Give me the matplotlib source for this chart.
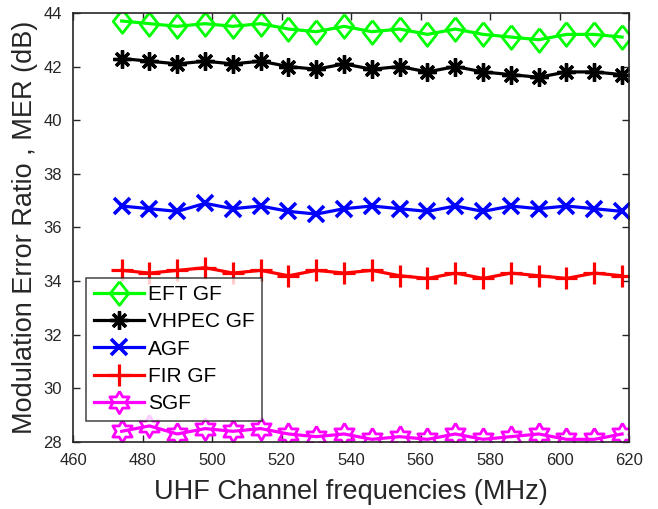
import numpy as np
import matplotlib
matplotlib.use('Agg')
import matplotlib.pyplot as plt

plt.rcParams['font.family'] = ['Liberation Sans', 'DejaVu Sans']

# ── Data ──────────────────────────────────────────────────────────────────────
freqs = [474, 482, 490, 498, 506, 514, 522, 530, 538, 546,
         554, 562, 570, 578, 586, 594, 602, 610, 618]

eft_gf = [43.7, 43.6, 43.5, 43.6, 43.5, 43.6, 43.4, 43.3, 43.5, 43.3,
          43.4, 43.2, 43.4, 43.2, 43.1, 43.0, 43.2, 43.2, 43.1]
vhpec_gf = [42.3, 42.2, 42.1, 42.2, 42.1, 42.2, 42.0, 41.9, 42.1, 41.9,
            42.0, 41.8, 42.0, 41.8, 41.7, 41.6, 41.8, 41.8, 41.7]
agf = [36.8, 36.7, 36.6, 36.9, 36.7, 36.8, 36.6, 36.5, 36.7, 36.8,
       36.7, 36.6, 36.8, 36.6, 36.8, 36.7, 36.8, 36.7, 36.6]
fir_gf = [34.4, 34.3, 34.4, 34.5, 34.3, 34.4, 34.2, 34.4, 34.3, 34.4,
          34.2, 34.1, 34.3, 34.1, 34.3, 34.2, 34.1, 34.3, 34.2]
sgf = [28.4, 28.6, 28.3, 28.5, 28.4, 28.5, 28.3, 28.2, 28.3, 28.1,
       28.2, 28.1, 28.3, 28.1, 28.2, 28.3, 28.1, 28.1, 28.3]

x_ticks = [460, 480, 500, 520, 540, 560, 580, 600, 620]
y_ticks = [28, 30, 32, 34, 36, 38, 40, 42, 44]

# ── Marker shapes (MATLAB look-alikes) ────────────────────────────────────────
diamond = [(0, 1), (0.78, 0), (0, -1), (-0.78, 0), (0, 1)]
ang = np.deg2rad(np.arange(12) * 30 + 90)
rad = np.where(np.arange(12) % 2 == 0, 1.0, 0.577)
hexagram = list(zip(rad * np.cos(ang), rad * np.sin(ang)))
hexagram.append(hexagram[0])

fig = plt.figure(figsize=(6.58, 5.09), dpi=100)
ax = fig.add_axes([0.111, 0.1316, 0.845, 0.843])

lw = 2.3
ax.plot(freqs, eft_gf, color='#00ff00', lw=lw, marker=diamond, ms=17,
        mfc='none', mew=2.0, label='EFT GF')
ax.plot(freqs, vhpec_gf, color='black', lw=lw, marker=(8, 2, 0), ms=13,
        mew=2.4, label='VHPEC GF')
ax.plot(freqs, agf, color='#0000ff', lw=lw, marker='x', ms=11,
        mew=2.6, label='AGF')
ax.plot(freqs, fir_gf, color='#ff0000', lw=lw, marker='+', ms=16,
        mew=2.3, label='FIR GF')
ax.plot(freqs, sgf, color='#ff00ff', lw=lw, marker=hexagram, ms=16,
        mfc='none', mew=2.0, label='SGF')

ax.set_xlim(460, 620)
ax.set_ylim(28, 44)
ax.set_xticks(x_ticks)
ax.set_yticks(y_ticks)
ax.tick_params(direction='in', top=True, right=True, length=5, width=1.0,
               labelsize=12, colors='#262626', pad=8)
for sp in ax.spines.values():
    sp.set_linewidth(1.2)
    sp.set_color('#262626')

ax.set_xlabel('UHF Channel frequencies (MHz)', fontsize=19.5, color='#262626',
              labelpad=8)
ax.set_ylabel('Modulation Error Ratio , MER (dB)', fontsize=19.5,
              color='#262626', labelpad=4)

leg = ax.legend(loc='lower left', bbox_to_anchor=(0.024, 0.05), fontsize=15,
                frameon=True, fancybox=False, edgecolor='#262626',
                handlelength=2.4, handletextpad=0.2, borderpad=0.35,
                labelspacing=0.4, borderaxespad=0)
leg.get_frame().set_linewidth(1.2)

fig.savefig('out.png', dpi=100)
